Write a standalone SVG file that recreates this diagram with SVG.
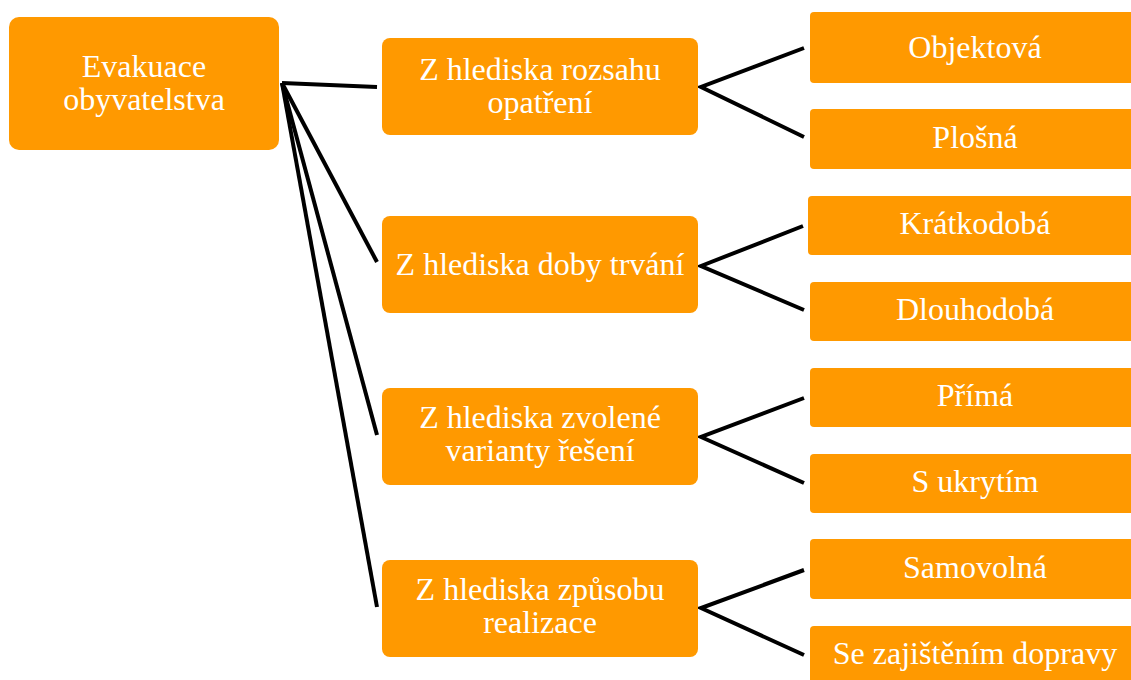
<svg xmlns="http://www.w3.org/2000/svg" width="1131" height="680" viewBox="0 0 1131 680">
<style>
.box{fill:#FF9900}
.t{font-family:"Liberation Serif","Times New Roman",serif;font-size:32px;fill:#FFFFFF;text-anchor:middle}
.c{stroke:#000;stroke-width:4;fill:none;stroke-linejoin:miter}
</style>
<rect width="1131" height="680" fill="#FFFFFF"/>
<g id="connectors">
<line class="c" x1="282" y1="83" x2="377" y2="87"/>
<line class="c" x1="282" y1="83" x2="377" y2="262"/>
<line class="c" x1="282" y1="83" x2="377" y2="435"/>
<line class="c" x1="282" y1="83" x2="377" y2="607"/>
<polyline class="c" points="804,48 701,87 804,137"/>
<polyline class="c" points="803,226 701,266 804,310"/>
<polyline class="c" points="804,398 701,437 804,483"/>
<polyline class="c" points="804,570 701,608 804,655"/>
</g>
<g id="root">
<rect class="box" x="9" y="17" width="270" height="133" rx="10"/>
<text class="t" x="144" y="77">Evakuace</text>
<text class="t" x="144" y="110">obyvatelstva</text>
</g>
<g id="rozsah">
<rect class="box" x="382" y="38" width="316" height="97" rx="8"/>
<text class="t" x="540" y="80">Z hlediska rozsahu</text>
<text class="t" x="540" y="113">opatření</text>
</g>
<g id="doba">
<rect class="box" x="382" y="216" width="316" height="97" rx="8"/>
<text class="t" x="540" y="275">Z hlediska doby trvání</text>
</g>
<g id="varianta">
<rect class="box" x="382" y="388" width="316" height="97" rx="8"/>
<text class="t" x="540" y="428">Z hlediska zvolené</text>
<text class="t" x="540" y="461">varianty řešení</text>
</g>
<g id="zpusob">
<rect class="box" x="382" y="560" width="316" height="97" rx="8"/>
<text class="t" x="540" y="600">Z hlediska způsobu</text>
<text class="t" x="540" y="633">realizace</text>
</g>
<g id="objektova">
<rect class="box" x="810" y="12" width="330" height="71" rx="4"/>
<text class="t" x="975" y="58">Objektová</text>
</g>
<g id="plosna">
<rect class="box" x="810" y="109" width="330" height="60" rx="4"/>
<text class="t" x="975" y="148">Plošná</text>
</g>
<g id="kratkodoba">
<rect class="box" x="808" y="196" width="332" height="59" rx="4"/>
<text class="t" x="975" y="234">Krátkodobá</text>
</g>
<g id="dlouhodoba">
<rect class="box" x="810" y="282" width="330" height="59" rx="4"/>
<text class="t" x="975" y="320">Dlouhodobá</text>
</g>
<g id="prima">
<rect class="box" x="810" y="368" width="330" height="59" rx="4"/>
<text class="t" x="975" y="406">Přímá</text>
</g>
<g id="ukryti">
<rect class="box" x="810" y="454" width="330" height="59" rx="4"/>
<text class="t" x="975" y="492">S ukrytím</text>
</g>
<g id="samovolna">
<rect class="box" x="810" y="539" width="330" height="60" rx="4"/>
<text class="t" x="975" y="578">Samovolná</text>
</g>
<g id="doprava">
<rect class="box" x="810" y="626" width="330" height="70" rx="4"/>
<text class="t" x="975" y="664">Se zajištěním dopravy</text>
</g>
</svg>
